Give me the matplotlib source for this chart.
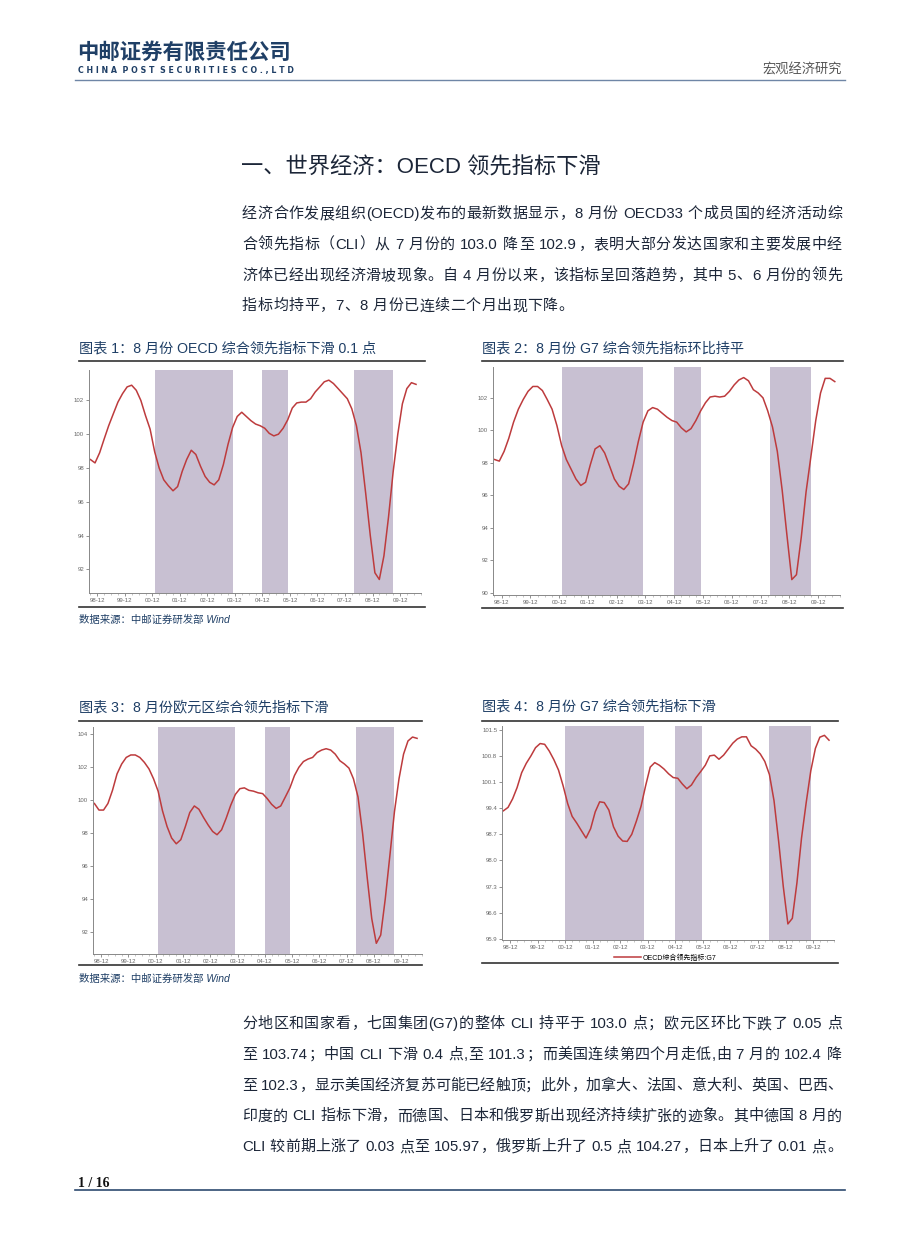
import re
import matplotlib
matplotlib.use('Agg')
import matplotlib.pyplot as plt
from matplotlib.font_manager import FontProperties
import pandas as pd

W, H = 920, 1249
FAM = ['Liberation Sans', 'Noto Sans CJK SC', 'DejaVu Sans']
plt.rcParams['font.family'] = FAM

# ---- data (bi-monthly readings, 1998-09 .. 2010-07) ----
dates = pd.date_range('1998-09-01', '2010-07-01', freq='2MS')

oecd = [98.5, 98.3, 98.9, 99.7, 100.5, 101.2, 101.9, 102.4, 102.8, 102.9,
        102.6, 102.0, 101.1, 100.3, 98.95, 98.0, 97.3, 96.95, 96.65, 96.9,
        97.8, 98.5, 99.05, 98.8, 98.1, 97.5, 97.15, 97.0, 97.3, 98.2,
        99.4, 100.4, 101.05, 101.3, 101.05, 100.8, 100.6, 100.5, 100.35, 100.05,
        99.9, 100.0, 100.35, 100.85, 101.55, 101.85, 101.9, 101.9, 102.1, 102.5,
        102.8, 103.1, 103.2, 103.0, 102.7, 102.4, 102.1, 101.5, 100.5, 98.9,
        96.5, 94.0, 91.8, 91.4, 92.8, 95.1, 97.8, 100.0, 101.8, 102.7,
        103.05, 102.95]

g7 = [98.2, 98.1, 98.7, 99.5, 100.5, 101.3, 101.9, 102.4, 102.7, 102.7,
      102.45, 101.9, 101.3, 100.3, 99.05, 98.2, 97.6, 97.0, 96.6, 96.8,
      97.9, 98.85, 99.05, 98.6, 97.8, 97.0, 96.55, 96.35, 96.7, 97.9,
      99.3, 100.5, 101.2, 101.4, 101.3, 101.05, 100.8, 100.6, 100.5, 100.15,
      99.9, 100.1, 100.6, 101.2, 101.7, 102.05, 102.1, 102.05, 102.1, 102.4,
      102.8, 103.1, 103.25, 103.05, 102.5, 102.3, 102.0, 101.2, 100.2, 98.7,
      96.3, 93.5, 90.8, 91.1, 93.4, 96.2, 98.4, 100.6, 102.3, 103.2,
      103.2, 103.0]

euro = [99.8, 99.4, 99.4, 99.8, 100.6, 101.6, 102.2, 102.6, 102.75, 102.75,
        102.6, 102.3, 101.9, 101.3, 100.55, 99.35, 98.4, 97.7, 97.35, 97.6,
        98.4, 99.25, 99.65, 99.45, 98.95, 98.5, 98.1, 97.9, 98.2, 98.9,
        99.7, 100.35, 100.7, 100.75, 100.6, 100.55, 100.45, 100.4, 100.1, 99.75,
        99.5, 99.65, 100.2, 100.75, 101.5, 102.0, 102.35, 102.5, 102.6, 102.9,
        103.05, 103.13, 103.05, 102.8, 102.4, 102.2, 101.95, 101.3, 100.2, 98.0,
        95.3, 92.8, 91.3, 91.8, 94.0, 96.6, 99.3, 101.3, 102.8, 103.6,
        103.84, 103.76]

g7_b = [99.33, 99.42, 99.65, 99.95, 100.35, 100.6, 100.8, 101.02, 101.13, 101.11,
        100.93, 100.7, 100.42, 100.0, 99.52, 99.18, 99.0, 98.8, 98.6, 98.85,
        99.3, 99.57, 99.55, 99.35, 98.9, 98.65, 98.52, 98.51, 98.7, 99.05,
        99.45, 100.0, 100.5, 100.62, 100.55, 100.45, 100.32, 100.22, 100.2, 100.05,
        99.92, 100.02, 100.22, 100.38, 100.55, 100.8, 100.82, 100.71, 100.82, 100.98,
        101.14, 101.25, 101.31, 101.31, 101.07, 100.98, 100.85, 100.65, 100.3, 99.6,
        98.5, 97.3, 96.3, 96.45, 97.4, 98.6, 99.55, 100.4, 101.0, 101.3,
        101.35, 101.22]

spans_a = [('2001-01-01', '2003-11-01'), ('2004-12-01', '2005-11-01'), ('2008-04-01', '2009-09-01')]
spans_b = [('2000-12-01', '2003-10-15'), ('2004-12-01', '2005-11-18'), ('2008-05-01', '2009-11-01')]

tick_dates = pd.to_datetime(['%d-12-01' % y for y in range(1998, 2010)])
tick_labels = ['%02d-12' % (y % 100) for y in range(1998, 2010)]

titles = ['图表 1：8 月份 OECD 综合领先指标下滑 0.1 点',
          '图表 2：8 月份 G7 综合领先指标环比持平',
          '图表 3：8 月份欧元区综合领先指标下滑',
          '图表 4：8 月份 G7 综合领先指标下滑']

para1 = ['经济合作发展组织(OECD)发布的最新数据显示，8 月份 OECD33 个成员国的经济活动综',
         '合领先指标（CLI）从 7 月份的 103.0 降至 102.9，表明大部分发达国家和主要发展中经',
         '济体已经出现经济滑坡现象。自 4 月份以来，该指标呈回落趋势，其中 5、6 月份的领先',
         '指标均持平，7、8 月份已连续二个月出现下降。']
para2 = ['分地区和国家看，七国集团(G7)的整体 CLI 持平于 103.0 点；欧元区环比下跌了 0.05 点',
         '至 103.74；中国 CLI 下滑 0.4 点,至 101.3；而美国连续第四个月走低,由 7 月的 102.4 降',
         '至 102.3，显示美国经济复苏可能已经触顶；此外，加拿大、法国、意大利、英国、巴西、',
         '印度的 CLI 指标下滑，而德国、日本和俄罗斯出现经济持续扩张的迹象。其中德国 8 月的',
         'CLI 较前期上涨了 0.03 点至 105.97，俄罗斯上升了 0.5 点 104.27，日本上升了 0.01 点。']

RED = '#bd3b3d'
SHADE = '#c8c0d2'
NAVY = '#1f3f66'
TXT = '#1c2638'

fig = plt.figure(figsize=(9.2, 12.49), dpi=100)
renderer = fig.canvas.get_renderer()


def fx(x):
    return x / W


def fy(y):
    return 1 - y / H


def hline(y, x0, x1, color='#333333', lw=1.2):
    fig.add_artist(plt.Line2D([fx(x0), fx(x1)], [fy(y), fy(y)], color=color, lw=lw,
                              transform=fig.transFigure))


def text_line(s, x0, x1, y, size=10.8, color=TXT, gap=None):
    # draws one line of body text, stretched to [x0, x1] unless a fixed gap is given
    fp = FontProperties(family=FAM, size=size)
    toks = re.findall(r'[A-Za-z0-9().,:;%]+| |.', s)
    ws = [renderer.get_text_width_height_descent(t, fp, ismath=False)[0] for t in toks]
    if gap is None:
        gap = ((x1 - x0) - sum(ws)) / (len(toks) - 1)
    x = x0
    for t, w in zip(toks, ws):
        if t != ' ':
            fig.text(fx(x), fy(y), t, fontproperties=fp, color=color, va='baseline')
        x += w + gap
    return gap


# header
fig.text(fx(77), fy(53), '中邮证券有限责任公司', fontsize=15.4, weight='bold', color=NAVY, va='center')
fig.text(fx(78), fy(70), 'C H I N A  P O S T  S E C U R I T I E S  C O . , L T D', fontsize=5.7,
         color=NAVY, va='center', family='DejaVu Sans', weight='bold')
fig.text(fx(842), fy(70), '宏观经济研究', fontsize=9.5, color='#555555', va='center', ha='right')
hline(80, 75, 845, color='#6f86a6', lw=1.0)

fig.text(fx(241), fy(168), '一、世界经济：OECD 领先指标下滑', fontsize=16, color=TXT, va='center')

gaps = [text_line(s, 242, 842, 218 + i * 30.8) for i, s in enumerate(para1[:3])]
text_line(para1[3], 242, 842, 218 + 3 * 30.8, gap=sum(gaps) / len(gaps))
for i, s in enumerate(para2):
    text_line(s, 242, 842, 1028 + i * 30.8)

# chart frames
frames = [
    dict(title_xy=(79, 348), rule=(79, 425), rule_y=(361, 607), ax=(89, 370, 421, 593)),
    dict(title_xy=(482, 348), rule=(482, 843), rule_y=(361, 608), ax=(493, 367, 840, 595)),
    dict(title_xy=(79, 707), rule=(79, 422), rule_y=(721, 965), ax=(93, 727, 422, 954)),
    dict(title_xy=(482, 707), rule=(482, 838), rule_y=(721, 963), ax=(502, 726, 834, 940)),
]
series = [oecd, g7, euro, g7_b]
spans = [spans_a, spans_a, spans_a, spans_b]
yticks = [[92, 94, 96, 98, 100, 102], [90, 92, 94, 96, 98, 100, 102],
          [92, 94, 96, 98, 100, 102, 104], [95.9, 96.6, 97.3, 98.0, 98.7, 99.4, 100.1, 100.8, 101.5]]
ylims = [(90.6, 103.8), (89.85, 103.9), (90.65, 104.45), (95.87, 101.6)]
fmts = ['{:.0f}', '{:.0f}', '{:.0f}', '{:.1f}']

xl = (pd.Timestamp('1998-08-13'), pd.Timestamp('2010-09-05'))
minor = pd.date_range('1998-09-01', '2010-09-01', freq='3MS')

for k in range(4):
    f = frames[k]
    fig.text(fx(f['title_xy'][0]), fy(f['title_xy'][1]), titles[k], fontsize=10.2, color=NAVY, va='center')
    hline(f['rule_y'][0], f['rule'][0], f['rule'][1])
    hline(f['rule_y'][1], f['rule'][0], f['rule'][1])
    x0, y0, x1, y1 = f['ax']
    ax = fig.add_axes([x0 / W, 1 - y1 / H, (x1 - x0) / W, (y1 - y0) / H])
    for a, b in spans[k]:
        ax.axvspan(pd.Timestamp(a), pd.Timestamp(b), color=SHADE, lw=0, zorder=0)
    ax.plot(dates, series[k], color=RED, lw=1.1, zorder=2, label='OECD综合领先指标:G7')
    ax.set_xlim(xl)
    ax.set_ylim(ylims[k])
    ax.set_yticks(yticks[k])
    ax.set_yticklabels([fmts[k].format(v) for v in yticks[k]])
    ax.set_xticks(tick_dates)
    ax.set_xticklabels(tick_labels)
    ax.set_xticks(minor, minor=True)
    for side in ['top', 'right']:
        ax.spines[side].set_visible(False)
    for side in ['left', 'bottom']:
        ax.spines[side].set_color('#888888')
        ax.spines[side].set_linewidth(0.7)
    ax.tick_params(labelsize=4.3, colors='#666666', length=2, width=0.5, pad=1.5)
    ax.tick_params(which='minor', length=1.2, width=0.4, colors='#999999')
    if k == 3:
        ax.legend(loc='center', bbox_to_anchor=(fx(665), fy(958)), bbox_transform=fig.transFigure,
                  frameon=False, fontsize=5, handlelength=4, handletextpad=0.2)

fig.text(fx(79), fy(620), '数据来源：中邮证券研发部 Wind', fontsize=7.5, color=NAVY, va='center', style='italic')
fig.text(fx(79), fy(979), '数据来源：中邮证券研发部 Wind', fontsize=7.5, color=NAVY, va='center', style='italic')

# footer
fig.text(fx(78), fy(1187), '1 / 16', fontsize=10, weight='bold', family='Liberation Serif', color='#111111',
         va='baseline')
hline(1190, 75, 845, color='#2e4a70', lw=1.2)

fig.savefig('out.png', dpi=100)
